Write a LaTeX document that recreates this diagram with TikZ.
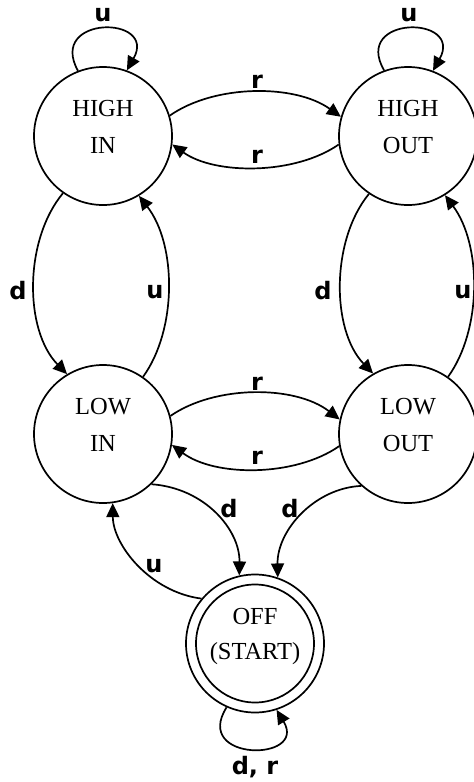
\documentclass[tikz,border=0pt]{standalone}
\usepackage{fontspec}
\setmainfont{Liberation Serif}
\newfontfamily\lblfont{DejaVu Sans}
\usetikzlibrary{arrows.meta}
\begin{document}
\begin{tikzpicture}[x=1pt,y=-1pt,
  state/.style={circle,draw,line width=1.7pt,minimum size=138pt,inner sep=0pt},
  stxt/.style={anchor=north,inner sep=0pt,align=center,font=\fontsize{24.5}{37.5}\selectfont},
  stxtoff/.style={anchor=north,inner sep=0pt,align=center,font=\fontsize{24.5}{35}\selectfont},
  edge/.style={line width=1.7pt,-{Triangle[length=14pt,width=13pt]}},
  lbl/.style={inner sep=0pt,font=\lblfont\bfseries\fontsize{24}{27}\selectfont}]
\fill[white] (0,0) rectangle (474,782);
\useasboundingbox (0,0) rectangle (474,782);
% states
\node[state] (hi) at (103,136) {};
\node[state] (ho) at (408,136) {};
\node[state] (li) at (103,434) {};
\node[state] (lo) at (408,434) {};
\node[state] (off) at (255,643.5) {};
\draw[line width=1.7pt] (off.center) circle[radius=59pt];
\node[stxt] (hit) at (103,100) {HIGH\\IN};
\node[stxt] (hot) at (408,100) {HIGH\\OUT};
\node[stxt] (lit) at (103,398) {LOW\\IN};
\node[stxt] (lot) at (408,398) {LOW\\OUT};
\node[stxtoff] (offt) at (255,608) {OFF\\(START)};
% self loops
\draw[edge] (hi.111) .. controls (47,15) and (158,15) .. (hi.70);
\node[lbl] (l1) at (103,15) {u};
\draw[edge] (ho.110) .. controls (352,15) and (464,15) .. (ho.69);
\node[lbl] (l2) at (409,15) {u};
\draw[edge] (off.246.5) .. controls (192,762) and (308,762) .. (off.288);
\node[lbl] (l3) at (255,767) {d, r};
% high row
\draw[edge] (hi.17.4) .. controls (215,84) and (295,84) .. (ho.164);
\node[lbl] (l4) at (257,82) {r};
\draw[edge] (ho.187.6) .. controls (295,175) and (215,175) .. (hi.353.4);
\node[lbl] (l5) at (257,157) {r};
% low row
\draw[edge] (li.15.8) .. controls (215,385) and (295,385) .. (lo.168);
\node[lbl] (l6) at (257,384) {r};
\draw[edge] (lo.190.8) .. controls (295,477) and (215,477) .. (li.351);
\node[lbl] (l7) at (257,458) {r};
% left column
\draw[edge] (hi.235) .. controls (24,240) and (24,330) .. (li.121.7);
\node[lbl] (l8) at (18,291) {d};
\draw[edge] (li.55.6) .. controls (177,330) and (177,245) .. (hi.301.2);
\node[lbl] (l9) at (155,292) {u};
% right column
\draw[edge] (ho.236.8) .. controls (331,240) and (331,330) .. (lo.120);
\node[lbl] (l10) at (323,291) {d};
\draw[edge] (lo.55) .. controls (482,330) and (482,245) .. (ho.302);
\node[lbl] (l11) at (463,292) {u};
% to and from OFF
\draw[edge] (li.314.4) .. controls (205,488) and (240,530) .. (off.103);
\node[lbl] (l12) at (229,509) {d};
\draw[edge] (lo.228.7) .. controls (315,488) and (277,530) .. (off.71.4);
\node[lbl] (l13) at (290,509) {d};
\draw[edge] (off.140.4) .. controls (150,592) and (113,545) .. (li.278.2);
\node[lbl] (l14) at (154,566) {u};
\end{tikzpicture}
\end{document}
